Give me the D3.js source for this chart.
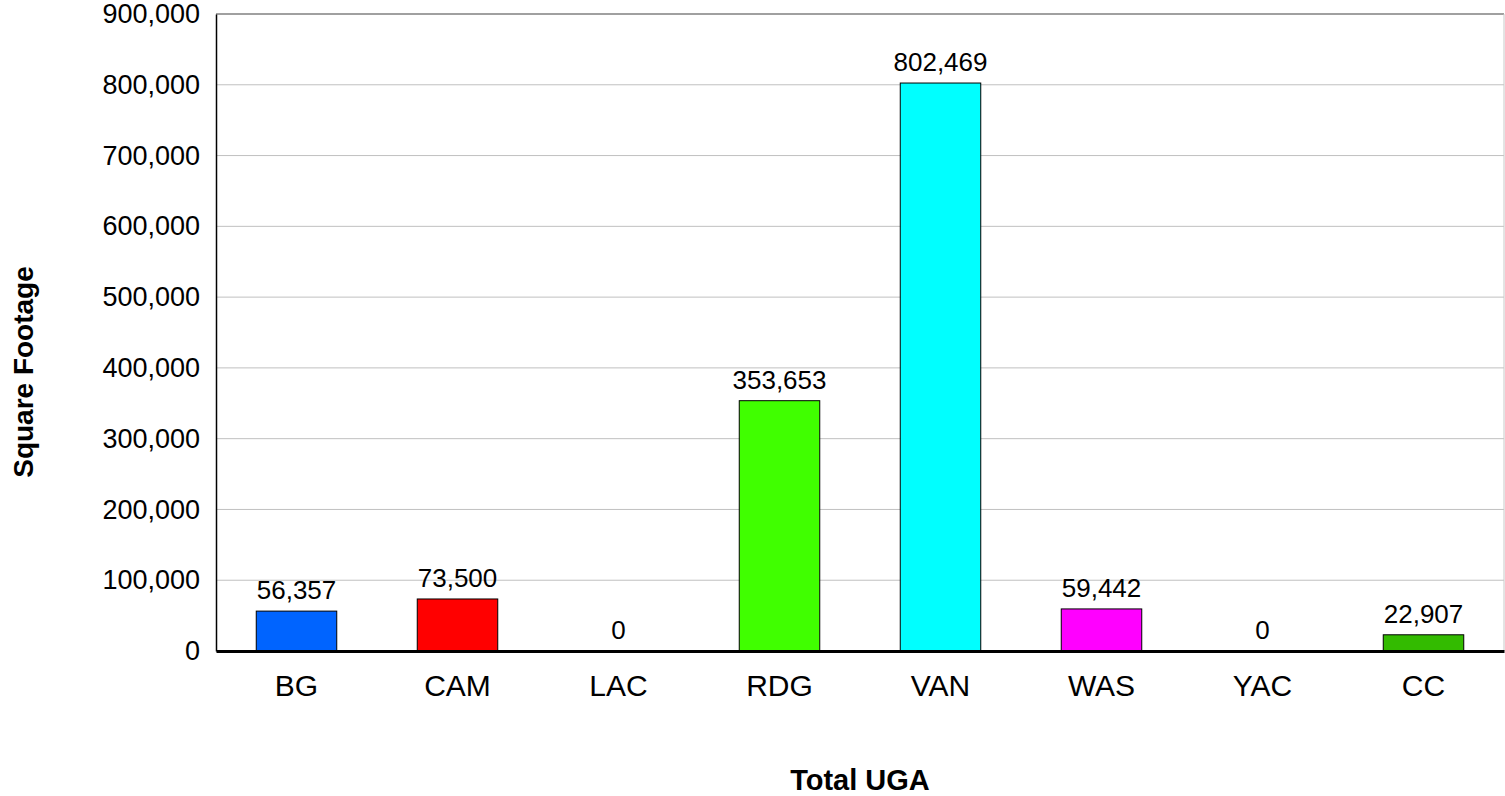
<!DOCTYPE html>
<html><head><meta charset="utf-8">
<script src="https://cdn.jsdelivr.net/npm/d3@7"></script>
<style>body{margin:0;background:#fff}svg{display:block;font-family:"Liberation Sans",Arial,sans-serif}</style>
</head><body>
<svg id="c" width="1505" height="796"></svg>
<script>
const categories = ["BG","CAM","LAC","RDG","VAN","WAS","YAC","CC"];
const values = [56357,73500,0,353653,802469,59442,0,22907];
const colors = ["#0064ff","#ff0000","#ffff00","#40ff00","#00ffff","#ff00ff","#999999","#33bb00"];
const yTicks = [0,100000,200000,300000,400000,500000,600000,700000,800000,900000];

const svg = d3.select("#c");
const L=216, R=1504, T=14, B=651;
const x = d3.scaleBand().domain(categories).range([L,R]).paddingInner(0.5).paddingOuter(0.25);
const y = d3.scaleLinear().domain([0,900000]).range([B,T]);
const fmt = d3.format(",");

// gridlines
svg.append("g").selectAll("line").data(yTicks.slice(1,-1)).join("line")
  .attr("x1",L).attr("x2",R).attr("y1",d=>y(d)).attr("y2",d=>y(d))
  .attr("stroke","#c0c0c0").attr("stroke-width",1);
// top border
svg.append("line").attr("x1",L).attr("x2",R).attr("y1",y(900000)).attr("y2",y(900000)).attr("stroke","#a0a0a0").attr("stroke-width",2);
// right border
svg.append("line").attr("x1",R).attr("x2",R).attr("y1",T).attr("y2",B).attr("stroke","#c8c8c8").attr("stroke-width",1);

// y axis
const ya = svg.append("g").attr("transform",`translate(${L},0)`)
  .call(d3.axisLeft(y).tickValues(yTicks).tickFormat(fmt).tickSize(0).tickPadding(16));
ya.select(".domain").attr("stroke","#000").attr("stroke-width",1.5);
ya.selectAll("text").attr("font-size",27).attr("font-family","Liberation Sans, Arial, sans-serif").attr("fill","#000");

// bars
svg.append("g").selectAll("rect").data(values).join("rect")
  .attr("x",(d,i)=>x(categories[i])).attr("width",x.bandwidth())
  .attr("y",d=>y(d)).attr("height",d=>B-y(d))
  .attr("fill",(d,i)=>colors[i]).attr("stroke",d=>d>0?"#000":"none").attr("stroke-width",1);

// value labels
svg.append("g").selectAll("text").data(values).join("text")
  .attr("x",(d,i)=>x(categories[i])+x.bandwidth()/2).attr("y",d=>y(d)-12)
  .attr("text-anchor","middle").attr("font-size",26).attr("fill","#000")
  .text(d=>fmt(d));

// x axis
const xa = svg.append("g").attr("transform",`translate(0,${B})`)
  .call(d3.axisBottom(x).tickSize(0).tickPadding(24));
xa.select(".domain").attr("stroke","#000").attr("stroke-width",3);
xa.selectAll("text").attr("font-size",30).attr("font-family","Liberation Sans, Arial, sans-serif").attr("fill","#000");

// axis titles
svg.append("text").attr("x",(L+R)/2).attr("y",790).attr("text-anchor","middle")
  .attr("font-size",29).attr("font-weight","bold").text("Total UGA");
svg.append("text").attr("transform","translate(33,372) rotate(-90)").attr("text-anchor","middle")
  .attr("font-size",28).attr("font-weight","bold").text("Square Footage");
</script>
</body></html>
